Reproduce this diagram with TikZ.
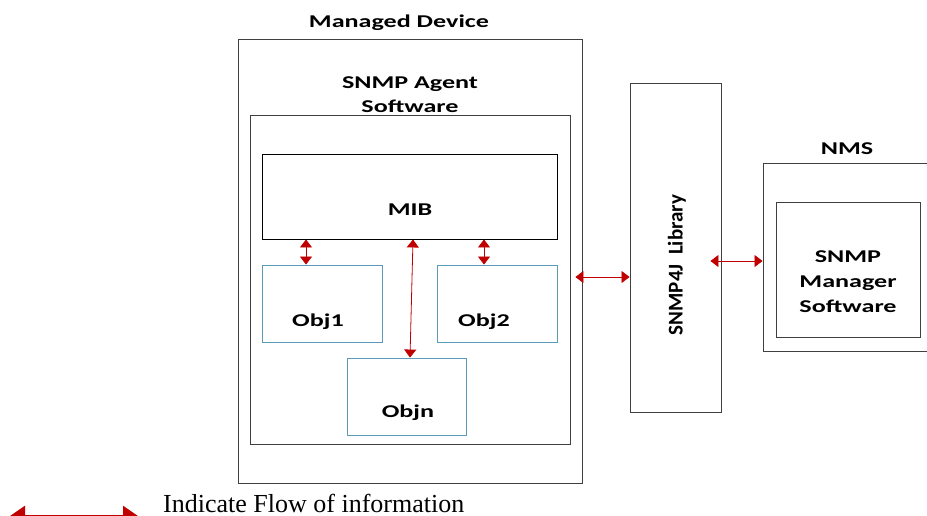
\documentclass[tikz,border=0pt]{standalone}
\usepackage{fontspec}
\setmainfont{Liberation Serif}
\newfontfamily\lblfont[FakeStretch=1.45]{Carlito}
\newfontfamily\vlblfont{Carlito}
\usetikzlibrary{arrows.meta}
\definecolor{flowred}{HTML}{C00000}
\definecolor{objblue}{HTML}{5B9BB8}
\tikzset{
  box/.style={draw=black!75, line width=0.9pt, minimum width=#1, inner sep=0pt, fill=none},
  objbox/.style={draw=objblue, line width=0.9pt, inner sep=0pt},
  lbl/.style={font=\lblfont\bfseries\fontsize{18}{22}\selectfont, anchor=base, inner sep=0pt},
  flow/.style={draw=flowred, line width=0.8pt, {Triangle[width=12pt,length=8pt]}-{Triangle[width=12pt,length=8pt]}},
  bigflow/.style={draw=flowred, line width=2.5pt, {Triangle[width=20pt,length=15pt]}-{Triangle[width=20pt,length=15pt]}}
}
\begin{document}
\begin{tikzpicture}[x=1pt,y=-1pt]
\useasboundingbox (0,0) rectangle (927,515);
% boxes
\node[box=344pt, minimum height=444pt] (md) at (410,261) {};
\node[box=320pt, minimum height=329pt] (agent) at (410,279.5) {};
\node[box=295pt, minimum height=85pt, draw=black] (mib) at (409.5,196.5) {};
\node[objbox, minimum width=120pt, minimum height=77pt] (obj1) at (322,303.5) {};
\node[objbox, minimum width=120pt, minimum height=77pt] (obj2) at (497,303.5) {};
\node[objbox, minimum width=119pt, minimum height=77pt] (objn) at (406.5,396.5) {};
\node[box=91pt, minimum height=329pt] (lib) at (675.5,247.5) {};
\node[box=166pt, minimum height=188pt] (nms) at (846,257) {};
\node[box=144pt, minimum height=135pt] (mgr) at (848,269.5) {};
% labels
\node[lbl] (tmd) at (399,27) {Managed Device};
\node[lbl] (tag1) at (410,88) {SNMP Agent};
\node[lbl] (tag2) at (410,112) {Software};
\node[lbl] (tmib) at (410,215) {MIB};
\node[lbl] (tobj1) at (318,326) {Obj1};
\node[lbl] (tobj2) at (484,326) {Obj2};
\node[lbl] (tobjn) at (408,417) {Objn};
\node[lbl] (tnms) at (847,154) {NMS};
\node[lbl] (tm1) at (848,262) {SNMP};
\node[lbl] (tm2) at (848,287) {Manager};
\node[lbl] (tm3) at (848,312) {Software};
\node[font=\vlblfont\bfseries\fontsize{21}{24}\selectfont, rotate=90, inner sep=0pt] (tlib) at (677,265) {SNMP4J\ \ Library};
% connectors
\draw[flow] ([xshift=-16pt]obj1.north) -- ([xshift=-16pt]obj1.north |- mib.south);
\draw[flow] ([xshift=-13pt]obj2.north) -- ([xshift=-13pt]obj2.north |- mib.south);
\draw[flow] ([xshift=3.5pt]objn.north) -- ([xshift=3.5pt]mib.south);
\coordinate (l1) at ([yshift=-29.5pt]lib.west);
\coordinate (m1) at ([xshift=-7pt]md.east);
\draw[flow] (m1 |- l1) -- (l1);
\coordinate (n1) at ([yshift=-4pt]nms.west);
\coordinate (k1) at ([xshift=-11pt]lib.east);
\draw[flow] (k1 |- n1) -- (n1);
% legend
\coordinate (lg1) at (10,516);
\coordinate (lg2) at (138,516);
\draw[bigflow] (lg1) -- (lg2);
\node[font=\fontsize{26}{30}\selectfont, anchor=base west, inner sep=0pt] (tlg) at (163,512) {Indicate Flow of information};
\end{tikzpicture}
\end{document}
